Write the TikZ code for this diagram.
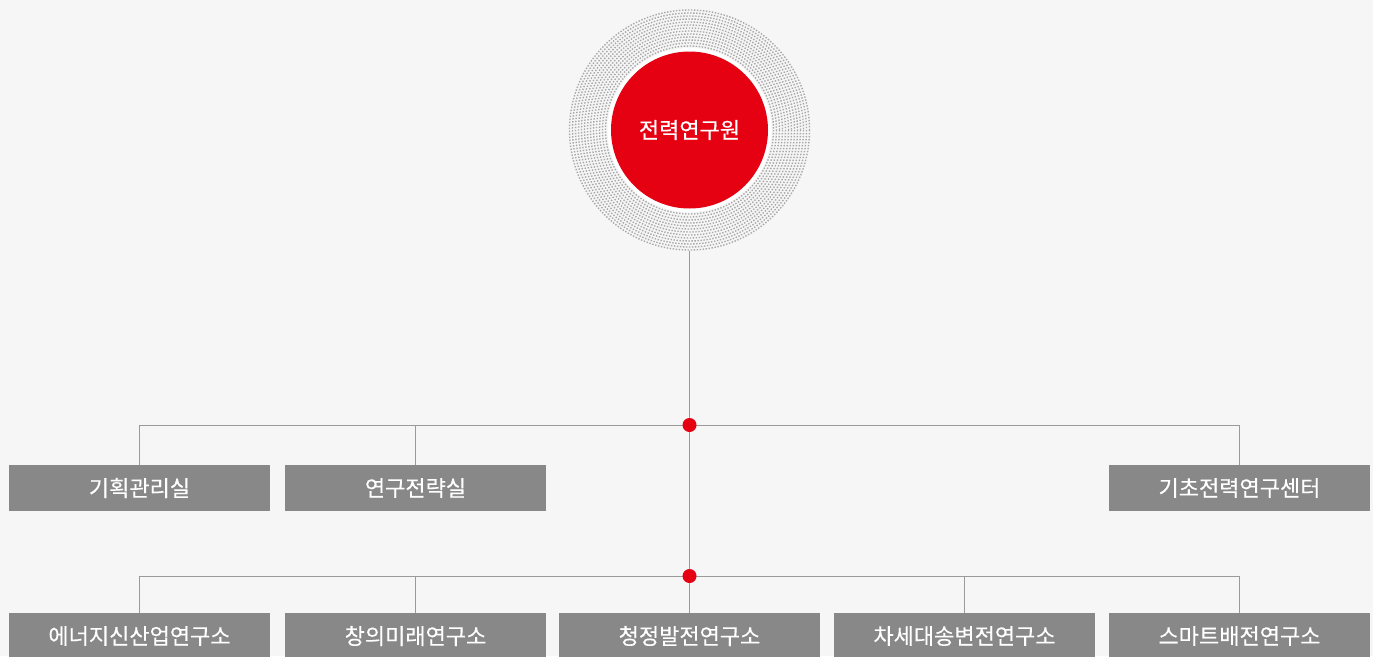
\documentclass[tikz,border=0pt]{standalone}
\usepackage{fontspec}
\setmainfont{Noto Sans CJK KR}
\newfontfamily\medfont[FakeBold=0.5]{Noto Sans CJK KR}
\newfontfamily\boxfont[FakeBold=0.25]{Noto Sans CJK KR}
\definecolor{bgc}{HTML}{F6F6F6}
\definecolor{redc}{HTML}{E50012}
\definecolor{boxc}{HTML}{888888}
\definecolor{linec}{HTML}{9A9A9A}
\definecolor{dotc}{HTML}{A8A8A8}
\begin{document}
\begin{tikzpicture}[x=1pt,y=-1pt,
  unit/.style={fill=boxc, text=white, minimum width=261pt, minimum height=46pt, inner sep=0pt, font=\boxfont\fontsize{22pt}{24pt}\selectfont},
  conn/.style={draw=linec, line width=1pt},
  dotring/.style={draw=dotc, line width=1.4pt, dash pattern=on 1.4pt off 1.6pt},
  junction/.style={fill=redc}]
\fill[bgc] (0,0) rectangle (1373,656);
\useasboundingbox (0,0) rectangle (1373,656);
\clip (0,0) rectangle (1373,656);
% central circle with dotted halo
\coordinate (c) at (689.5,130);
\foreach \r in {84,87,...,120} {\draw[dotring] (c) circle (\r);}
\fill[white] (c) circle (82);
\node[circle, minimum size=242pt, inner sep=0pt] (ring) at (c) {};
\node[circle, fill=redc, text=white, minimum size=157pt, inner sep=0pt, font=\medfont\fontsize{22pt}{24pt}\selectfont] (top) at (c) {전력연구원};
% junctions
\coordinate (j1) at (689.5,425);
\coordinate (j2) at (689.5,576);
% row 1
\node[unit] (kh) at (139.5,488) {기획관리실};
\node[unit] (yg) at (415.5,488) {연구전략실};
\node[unit] (gc) at (1239.5,488) {기초전력연구센터};
% row 2
\node[unit] (en) at (139.5,636) {에너지신산업연구소};
\node[unit] (cu) at (415.5,636) {창의미래연구소};
\node[unit] (cj) at (689.5,636) {청정발전연구소};
\node[unit] (ch) at (964.5,636) {차세대송변전연구소};
\node[unit] (sm) at (1239.5,636) {스마트배전연구소};
% connectors
\draw[conn] (ring.south) -- (cj.north);
\draw[conn] (kh.north) |- (j1);
\draw[conn] (yg.north) |- (j1);
\draw[conn] (gc.north) |- (j1);
\draw[conn] (en.north) |- (j2);
\draw[conn] (cu.north) |- (j2);
\draw[conn] (ch.north) |- (j2);
\draw[conn] (sm.north) |- (j2);
\fill[junction] (j1) circle (7);
\fill[junction] (j2) circle (7);
\end{tikzpicture}
\end{document}
